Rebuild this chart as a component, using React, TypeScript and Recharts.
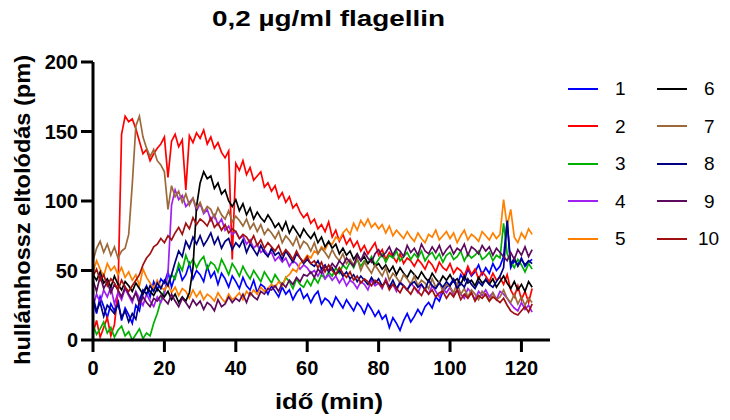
import React from 'react';
import { LineChart, Line, XAxis, YAxis, Legend, Customized } from 'recharts';

const FONT = '"Liberation Sans", Arial, Helvetica, sans-serif';

const title = '0,2 µg/ml flagellin';
const xLabel = 'idő (min)';
const yLabel = 'hullámhossz eltolódás (pm)';
const xTicks = [0, 20, 40, 60, 80, 100, 120];
const yTicks = [0, 50, 100, 150, 200];

// sampling grid in minutes (0..123)
const minutes = Array.from({ length: 124 }, (_, i) => i);

const s1 = [
  28, 19, 31, 24, 16, 26, 21, 29, 14, 23,
  18, 12, 25, 21, 34, 39, 31, 42, 36, 44,
  41, 49, 38, 46, 52, 43, 47, 55, 44, 50,
  47, 42, 53, 45, 49, 40, 48, 44, 38, 46,
  42, 37, 45, 39, 36, 43, 34, 40, 38, 33,
  39, 35, 31, 38, 33, 36, 29, 34, 37, 30,
  33, 27, 32, 35, 26, 30, 28, 24, 31, 27,
  23, 29, 25, 21, 27, 24, 19, 26, 22, 17,
  21, 15, 18, 9, 16, 12, 7, 14, 19, 13,
  17, 22, 18, 24, 27, 23, 31, 28, 35, 38,
  40, 44, 39, 47, 43, 51, 46, 49, 54, 47,
  52, 48, 55, 50, 53, 60, 85, 52, 57, 54,
  59, 53, 56, 58,
];
const s2 = [
  5, 14, 2, 9, 16, 3, 11, 35, 148, 161,
  157, 159, 152, 143, 134, 137, 129, 134, 138, 141,
  146, 117, 143, 148, 139, 144, 108, 147, 142, 149,
  145, 151, 141, 146, 138, 142, 135, 131, 136, 58,
  127, 122, 129, 119, 124, 115, 118, 121, 110, 113,
  107, 111, 102, 106, 99, 103, 95, 98, 92, 88,
  91, 84, 87, 80, 83, 78, 85, 74, 79, 71,
  76, 69, 73, 67, 71, 64, 68, 62, 66, 70,
  61, 65, 58, 63, 60, 56, 62, 55, 59, 57,
  53, 58, 55, 51, 57, 54, 49, 56, 52, 50,
  55, 48, 52, 50, 46, 53, 47, 51, 44, 49,
  46, 42, 48, 43, 45, 40, 47, 36, 31, 39,
  29, 35, 27, 37,
];
const s3 = [
  11, 4, 8, 13, 5, 9, 2, 7, 10, 3,
  6, 0, 4, 8, 1, 5, 3, 12, 19, 28,
  36, 41, 47, 44, 55, 50, 61, 54, 58, 52,
  57, 60, 51, 56, 54, 49, 58, 53, 47, 55,
  51, 46, 53, 48, 44, 50, 46, 42, 49, 45,
  41, 47, 43, 39, 45, 42, 37, 44, 40, 38,
  43, 39, 45, 41, 47, 44, 49, 46, 52, 48,
  54, 51, 56, 52, 58, 53, 57, 55, 60, 54,
  58, 62, 56, 61, 59, 64, 57, 60, 63, 58,
  62, 59, 64, 57, 61, 63, 58, 62, 56, 61,
  63, 58, 60, 64, 57, 62, 59, 61, 64, 58,
  60, 63, 57, 61, 59, 84, 62, 56, 52, 58,
  54, 49, 55, 51,
];
const s4 = [
  24, 33, 27, 36, 31, 38, 26, 34, 29, 37,
  32, 27, 35, 30, 25, 33, 28, 24, 31, 27,
  33, 48, 97, 108, 101, 104, 96, 99, 102, 93,
  98, 91, 94, 86, 90, 83, 87, 79, 82, 76,
  78, 73, 75, 69, 72, 66, 69, 63, 65, 61,
  63, 57, 60, 56, 59, 53, 57, 55, 51, 54,
  52, 48, 50, 46, 51, 44, 47, 43, 46, 41,
  45, 39, 43, 41, 37, 42, 40, 36, 43, 39,
  41, 37, 44, 38, 40, 35, 42, 39, 36, 41,
  38, 34, 40, 36, 33, 39, 35, 31, 37, 34,
  38, 32, 36, 33, 30, 37, 34, 29, 35, 32,
  36, 31, 34, 29, 35, 33, 30, 26, 23, 21,
  27, 22, 25, 20,
];
const s5 = [
  49, 57, 51, 46, 55, 50, 53, 47, 52, 45,
  49, 43, 47, 39, 51, 45, 41, 37, 43, 38,
  36, 40, 34, 38, 32, 37, 35, 30, 36, 31,
  35, 29, 33, 31, 28, 34, 30, 27, 33, 29,
  31, 34, 29, 35, 32, 36, 33, 38, 35, 37,
  40, 38, 42, 39, 45, 47, 51, 49, 55, 57,
  61, 59, 64, 62, 67, 65, 70, 69, 74, 72,
  77, 80, 76, 84, 79, 86, 82, 87, 81, 84,
  80, 83, 77, 82, 75, 79, 76, 73, 78, 74,
  71, 77, 73, 70, 76, 74, 79, 72, 75, 78,
  73, 77, 70, 75, 79, 72, 76, 74, 71, 78,
  75, 72, 77, 73, 76, 101, 82, 94, 74, 70,
  77, 73, 80, 76,
];
const s6 = [
  47, 43, 49, 41, 44, 38, 46, 40, 36, 42,
  39, 35, 41, 37, 33, 38, 35, 32, 37, 34,
  31, 35, 29, 33, 27, 31, 28, 34, 52, 96,
  113, 121, 116, 118, 109, 113, 105, 108, 100, 96,
  101, 93, 98, 90, 95, 87, 92, 88, 85, 90,
  86, 81, 84, 79, 85, 77, 82, 78, 74, 80,
  76, 73, 77, 70, 74, 67, 71, 66, 69, 62,
  66, 61, 64, 58, 62, 57, 60, 55, 58, 53,
  55, 51, 54, 49, 53, 47, 52, 48, 45, 50,
  47, 44, 49, 45, 42, 48, 44, 41, 46, 43,
  47, 42, 44, 40, 46, 41, 43, 39, 45, 41,
  43, 40, 44, 38, 42, 46, 41, 37, 42, 36,
  40, 35, 42, 38,
];
const s7 = [
  57, 66, 71, 63, 69, 61, 67, 59, 64, 66,
  76, 112, 154, 161, 146, 138, 132, 137, 129, 126,
  121, 94, 111, 103, 107, 99, 105, 97, 102, 95,
  99, 92, 96, 94, 88, 95, 90, 87, 93, 85,
  89, 86, 82, 87, 80, 84, 78, 83, 76, 80,
  77, 73, 78, 70, 75, 72, 68, 74, 66, 71,
  69, 64, 70, 62, 66, 63, 59, 65, 60, 57,
  62, 55, 58, 54, 59, 50, 56, 52, 48, 54,
  50, 46, 52, 43, 48, 45, 41, 47, 44, 40,
  46, 39, 43, 41, 37, 44, 38, 42, 35, 40,
  38, 34, 41, 33, 37, 31, 36, 33, 29, 35,
  32, 28, 34, 29, 31, 36, 30, 27, 33, 26,
  31, 25, 30, 27,
];
const s8 = [
  31, 21, 27, 17, 25, 22, 19, 26, 16, 21,
  13, 19, 15, 28, 36, 33, 39, 35, 41, 37,
  43, 39, 47, 56, 64, 60, 71, 66, 74, 69,
  75, 68, 72, 77, 69, 74, 66, 71, 73, 65,
  70, 67, 72, 63, 69, 65, 61, 68, 63, 60,
  66, 61, 63, 58, 64, 60, 56, 62, 59, 55,
  58, 55, 53, 57, 51, 54, 49, 52, 47, 50,
  46, 49, 44, 47, 42, 46, 43, 40, 45, 41,
  44, 39, 42, 38, 43, 37, 41, 39, 36, 40,
  42, 38, 40, 36, 43, 39, 37, 41, 38, 42,
  39, 43, 37, 41, 38, 44, 40, 37, 42, 39,
  44, 40, 38, 42, 46, 52, 86, 54, 59, 53,
  58, 54, 57, 55,
];
const s9 = [
  43, 35, 46, 37, 42, 34, 40, 36, 31, 38,
  33, 29, 34, 26, 31, 27, 24, 30, 28, 32,
  29, 26, 33, 28, 24, 30, 27, 23, 29, 25,
  28, 22, 27, 25, 21, 29, 24, 26, 31, 27,
  30, 28, 33, 27, 34, 31, 29, 35, 33, 37,
  36, 39, 35, 41, 38, 43, 40, 45, 42, 47,
  46, 49, 45, 51, 48, 53, 50, 55, 52, 57,
  54, 59, 56, 53, 61, 57, 63, 59, 56, 62,
  65, 60, 63, 67, 61, 66, 64, 60, 68, 63,
  66, 61, 69, 64, 62, 67, 63, 68, 61, 65,
  68, 62, 66, 64, 69, 61, 67, 65, 62, 68,
  64, 67, 61, 66, 63, 60, 57, 63, 58, 65,
  61, 67, 60, 65,
];
const s10 = [
  46, 51, 43, 47, 39, 44, 41, 36, 43, 38,
  35, 39, 43, 47, 54, 59, 62, 67, 69, 73,
  70, 75, 72, 77, 81, 76, 84, 80, 88, 83,
  87, 85, 82, 88, 81, 84, 79, 83, 77, 80,
  78, 73, 76, 74, 70, 75, 68, 72, 66, 70,
  67, 64, 68, 61, 65, 62, 58, 64, 59, 56,
  60, 55, 57, 52, 56, 49, 54, 50, 47, 52,
  48, 45, 49, 43, 46, 41, 44, 42, 39, 43,
  41, 38, 43, 36, 40, 37, 34, 39, 36, 33,
  38, 35, 32, 37, 33, 36, 31, 34, 35, 30,
  34, 31, 36, 29, 33, 30, 34, 28, 32, 30,
  33, 28, 31, 29, 27, 30, 25, 21, 19, 18,
  21, 24, 20, 26,
];

const seriesNames = ['1', '2', '3', '4', '5', '6', '7', '8', '9', '10'];
const seriesValues = [s1, s2, s3, s4, s5, s6, s7, s8, s9, s10];
const seriesColors = [
  '#0000FF', '#FF0000', '#00B000', '#A020F0', '#FF8000',
  '#000000', '#9C6A3A', '#000080', '#5C0A5C', '#A01010',
];

const data = minutes.map((t, i) => {
  const row: Record<string, number> = { t };
  seriesValues.forEach((arr, k) => {
    row['s' + (k + 1)] = arr[i];
  });
  return row;
});

const LegendContent = () => (
  <div
    style={{
      display: 'grid',
      gridTemplateColumns: '89px 89px',
      gridAutoFlow: 'column',
      gridTemplateRows: 'repeat(5, 37.5px)',
      fontFamily: FONT,
    }}
  >
    {seriesNames.map((n, i) => (
      <div key={n} style={{ display: 'flex', alignItems: 'center' }}>
        <svg width={30} height={4} style={{ marginRight: i >= 9 ? 11 : 17, flex: 'none' }}>
          <line x1={0} y1={2} x2={30} y2={2} stroke={seriesColors[i]} strokeWidth={2} />
        </svg>
        <span style={{ fontSize: 19, lineHeight: 1, color: '#000' }}>{n}</span>
      </div>
    ))}
  </div>
);

const Title = () => (
  <text
    x={328.5}
    y={26}
    textAnchor="middle"
    fontFamily={FONT}
    fontWeight={700}
    fontSize={22}
    fill="#000"
    textLength={233}
    lengthAdjust="spacingAndGlyphs"
  >
    {title}
  </text>
);

const tickStyle = { fill: '#000', fontSize: 20, fontWeight: 700, fontFamily: FONT };

export default function App() {
  return (
    <div style={{ position: 'absolute', left: 0, top: 0, width: 730, height: 420, background: '#fff' }}>
      <LineChart
        width={730}
        height={420}
        data={data}
        margin={{ top: 62, right: 180, bottom: 20, left: 0 }}
      >
        <XAxis
          dataKey="t"
          type="number"
          domain={[0, 128]}
          ticks={xTicks}
          height={60}
          axisLine={{ stroke: '#000', strokeWidth: 3 }}
          tickLine={{ stroke: '#000', strokeWidth: 3 }}
          tickSize={12}
          tickMargin={9}
          tick={tickStyle}
          label={{
            content: () => (
              <text
                x={329}
                y={409}
                textAnchor="middle"
                fontFamily={FONT}
                fontWeight={700}
                fontSize={22}
                fill="#000"
                textLength={108}
                lengthAdjust="spacingAndGlyphs"
              >
                {xLabel}
              </text>
            ),
          }}
        />
        <YAxis
          type="number"
          domain={[0, 200]}
          ticks={yTicks}
          width={93}
          axisLine={{ stroke: '#000', strokeWidth: 3 }}
          tickLine={{ stroke: '#000', strokeWidth: 3 }}
          tickSize={12}
          tickMargin={3}
          tick={tickStyle}
          label={{
            content: () => (
              <text
                x={30}
                y={210}
                transform="rotate(-90, 30, 210)"
                textAnchor="middle"
                fontFamily={FONT}
                fontWeight={700}
                fontSize={22}
                fill="#000"
                textLength={310}
                lengthAdjust="spacingAndGlyphs"
              >
                {yLabel}
              </text>
            ),
          }}
        />
        {seriesNames.map((n, i) => (
          <Line
            key={n}
            name={n}
            dataKey={'s' + (i + 1)}
            type="linear"
            stroke={seriesColors[i]}
            strokeWidth={1.7}
            dot={false}
            activeDot={false}
            isAnimationActive={false}
          />
        ))}
        <Legend
          layout="horizontal"
          verticalAlign="middle"
          align="center"
          content={LegendContent}
          wrapperStyle={{ left: 568, top: 70, width: 180, height: 190 }}
        />
        <Customized component={Title} />
      </LineChart>
    </div>
  );
}
